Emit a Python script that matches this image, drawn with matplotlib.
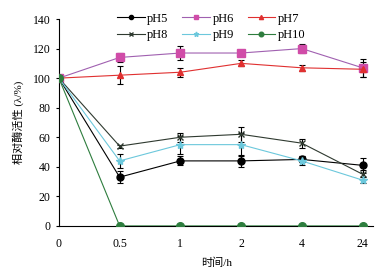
import matplotlib
matplotlib.use('Agg')
import matplotlib.pyplot as plt
import numpy as np

plt.rcParams['font.family'] = ['Liberation Serif', 'Noto Sans CJK SC']

# 数据
times = ['0', '0.5', '1', '2', '4', '24']
ph5 = [100, 33, 44, 44, 45, 41]
ph6 = [100, 114, 117, 117, 120, 107]
ph7 = [100, 102, 104, 110, 107, 106]
ph8 = [100, 54, 60, 62, 56, 35]
ph9 = [100, 44, 55, 55, 44, 31]
ph10 = [100, 0, 0, 0, 0, 0]
err5 = [0, 4, 3, 4, 2, 5]
err6 = [0, 3, 5, 2, 3, 6]
err7 = [0, 6, 3, 2, 2, 5]
err8 = [0, 1, 3, 5, 3, 3]
err9 = [0, 5, 6, 8, 3, 2]
err10 = [0, 0, 0, 0, 0, 0]

series = [
    ('pH5', ph5, err5, '#000000', '#000000', 'o', 5),
    ('pH6', ph6, err6, '#A060B0', '#D04CA8', 's', 5.5),
    ('pH7', ph7, err7, '#E03030', '#E03030', '^', 5),
    ('pH8', ph8, err8, '#2F3A30', '#2F3A30', 'x', 5),
    ('pH9', ph9, err9, '#6CC8DC', '#6CC8DC', '*', 6),
    ('pH10', ph10, err10, '#2E7D3E', '#2E7D3E', 'o', 5.5),
]

fig = plt.figure(figsize=(3.85, 2.68), dpi=100)
ax = fig.add_axes([0.153, 0.157, 0.817, 0.772])
x = np.arange(len(times))
handles = {}
for name, y, e, lc, mc, m, ms in series:
    ax.errorbar(x, y, yerr=e, fmt='none', ecolor='black', elinewidth=0.8, capsize=2, capthick=0.8, zorder=2)
    h, = ax.plot(x, y, color=lc, lw=0.8, marker=m, ms=ms, mfc=mc, mec=mc, zorder=3, label=name)
    handles[name] = h

order = ['pH5', 'pH8', 'pH6', 'pH9', 'pH7', 'pH10']
ax.legend([handles[n] for n in order], order, ncol=3, loc='upper left', bbox_to_anchor=(0.15, 1.085),
          frameon=False, fontsize=9, handlelength=2.2, handletextpad=0.2, columnspacing=1.1,
          labelspacing=0.35, markerscale=0.6)

ax.set_xlim(0, 5.18)
ax.set_ylim(0, 140)
ax.set_xticks(x)
ax.set_xticklabels(times)
ax.set_yticks(range(0, 141, 20))
ax.spines['top'].set_visible(False)
ax.spines['right'].set_visible(False)
ax.tick_params(axis='both', labelsize=8.5, length=2.5, width=0.8)
ax.tick_params(axis='x', length=0, pad=9)
ax.set_xlabel('时间/h', fontsize=8, labelpad=5)
ax.set_ylabel('相对酶活性 (λ/%)', fontsize=8, labelpad=6)

fig.savefig('out.png', dpi=100)
